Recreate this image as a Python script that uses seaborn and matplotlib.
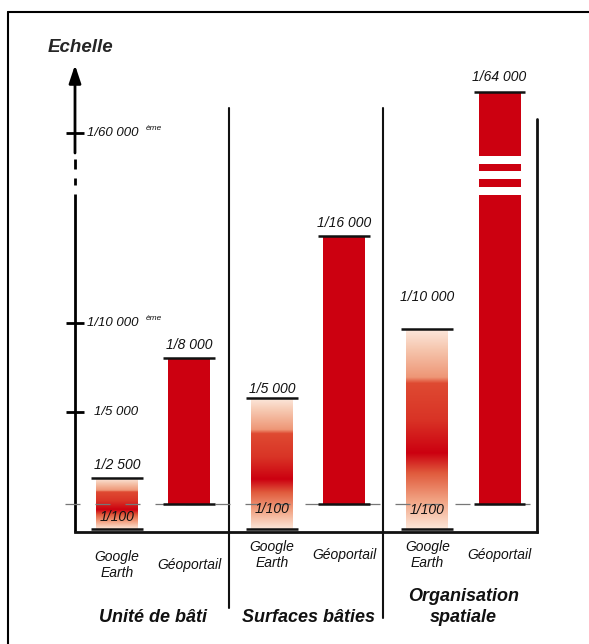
import matplotlib.pyplot as plt
import matplotlib as mpl
import pandas as pd
import numpy as np
import seaborn as sns
from matplotlib.lines import Line2D

sns.set_theme(style="white")
plt.rcParams["font.family"] = ["Liberation Sans", "DejaVu Sans"]

groupes = ["Unité de bâti", "Surfaces bâties", "Organisation\nspatiale"]
sources = ["Google\nEarth", "Géoportail"]
# échelle la plus petite atteinte par chaque source, et hauteur schématique du haut de barre
echelle_ge = ["1/2 500", "1/5 000", "1/10 000"]
echelle_geo = ["1/8 000", "1/16 000", "1/64 000"]
haut_ge = [26, 106, 175]
haut_geo = [146, 268, 412]
bas_ge = -25  # Google Earth descend sous le 1/100
graduations = ["1/5 000", "1/10 000", "1/60 000"]
suffixes = ["", "ème", "ème"]
pos_graduations = [92, 181, 371]
coupures = [(309, 317), (325, 333), (340, 348)]  # blancs dans la barre 1/64 000

ROUGE = "#CC0010"
NOIR = "#111111"

df = pd.DataFrame({
    "groupe": groupes * 2,
    "source": [sources[0]] * 3 + [sources[1]] * 3,
    "haut": haut_ge + haut_geo,
})

fig = plt.figure(figsize=(5.89, 6.44), dpi=100)
ax = fig.add_axes([0, 0, 1, 1])

sns.barplot(data=df, x="groupe", y="haut", hue="source", order=groupes, hue_order=sources,
            palette=[ROUGE, ROUGE], width=0.93, gap=0.42, errorbar=None, saturation=1,
            linewidth=0, legend=False, ax=ax)

# dégradé pour les barres Google Earth
cmap_ge = mpl.colors.LinearSegmentedColormap.from_list("ge", [
    (0.00, "#FCE8DC"), (0.10, "#F6C6AE"), (0.24, "#EE9676"), (0.27, "#DF4A32"),
    (0.45, "#D93426"), (0.62, "#CC0010"), (0.72, "#E05A3C"), (0.86, "#F2A484"),
    (1.00, "#FCE6D8")])
grad = np.linspace(0, 1, 256).reshape(-1, 1)

ge_bars = ax.containers[0]
geo_bars = ax.containers[1]
for p, top in zip(ge_bars, haut_ge):
    p.set_y(bas_ge)
    p.set_height(top - bas_ge)
    p.set_facecolor("none")
    x0, w = p.get_x(), p.get_width()
    im = ax.imshow(grad, cmap=cmap_ge, aspect="auto", extent=(x0, x0 + w, bas_ge, top),
                   origin="upper", zorder=1.5)
    im.set_clip_path(p)

# coupures blanches dans la dernière barre
p = geo_bars[2]
for lo, hi in coupures:
    ax.fill_between([p.get_x(), p.get_x() + p.get_width()], lo, hi, color="white", lw=0, zorder=2)

# ligne du 1/100
ax.plot([-0.567, 2.525], [0, 0], color="#777777", lw=0.9, dashes=(12, 12), zorder=4)

# traits haut / bas et étiquettes des barres
ext = 0.032
dy_ge = [13, 9, 32]
dy_geo = [13, 13, 15]
dy_100 = [-13, -5, -6]
for bars, labels, dys, bottom in [(ge_bars, echelle_ge, dy_ge, bas_ge), (geo_bars, echelle_geo, dy_geo, 0)]:
    for i, (p, lab, dy) in enumerate(zip(bars, labels, dys)):
        x0, w = p.get_x(), p.get_width()
        top = p.get_y() + p.get_height()
        for yy in (top, bottom):
            ax.plot([x0 - ext, x0 + w + ext], [yy, yy], color=NOIR, lw=1.8,
                    solid_capstyle="butt", zorder=5)
        ax.text(x0 + w / 2, top + dy, lab, ha="center", va="center", fontsize=10,
                style="italic", color=NOIR)
        if bottom < 0:
            ax.text(x0 + w / 2, dy_100[i], "1/100", ha="center", va="center", fontsize=10,
                    style="italic", color=NOIR, zorder=6)

# axe des échelles
xa = -0.5024
kw = dict(color="black", lw=2, solid_capstyle="butt")
ax.plot([xa, xa], [-28, 310], **kw)
ax.plot([xa, xa], [319, 326], **kw)
ax.plot([xa, xa], [335, 345], **kw)
ax.annotate("", xy=(xa, 439), xytext=(xa, 351),
            arrowprops=dict(arrowstyle="-|>,head_length=0.9,head_width=0.3", mutation_scale=12,
                            color="black", lw=2, shrinkA=0, shrinkB=0))
ax.text(-0.47, 457, "Echelle", ha="center", va="center", fontsize=13.5,
        weight="bold", style="italic")
for lab, suf, yy in zip(graduations, suffixes, pos_graduations):
    ax.plot([-0.56, -0.444], [yy, yy], **kw)
    xt = -0.38 if suf == "" else -0.425
    ax.text(xt, yy, lab, ha="left", va="center", fontsize=9.5, style="italic", color=NOIR)
    if suf:
        ax.text(-0.045, yy + 4, suf, ha="left", va="center", fontsize=6, style="italic", color=NOIR)

# cadre et séparateurs
ax.plot([xa, 2.4735], [-28, -28], color=NOIR, lw=2, solid_capstyle="projecting")
ax.plot([2.4735, 2.4735], [-28, 385], color=NOIR, lw=2)
ax.plot([0.4895, 0.4895], [-104, 396], color=NOIR, lw=1.5)
ax.plot([1.4815, 1.4815], [-114, 396], color=NOIR, lw=1.5)

# noms des sources et des groupes
y_src = [-61, -51, -51]
for i, g in enumerate(groupes):
    for bars, s in [(ge_bars, sources[0]), (geo_bars, sources[1])]:
        p = bars[i]
        ax.text(p.get_x() + p.get_width() / 2, y_src[i], s, ha="center", va="center",
                fontsize=10, style="italic", color=NOIR, linespacing=1.2)
    ax.text(i, -103 if "\n" in g else -113, g, ha="center", va="center", fontsize=13,
            weight="bold", style="italic", color=NOIR, linespacing=1.3)

fig.add_artist(Line2D([8 / 589, 8 / 589], [0, 1 - 12 / 644], color="black", lw=1.5))
fig.add_artist(Line2D([8 / 589, 1], [1 - 12 / 644, 1 - 12 / 644], color="black", lw=1.5))

ax.set_xlim(-0.9855, 2.8085)
ax.set_ylim(-140, 504)
ax.axis("off")

fig.savefig("out.png", dpi=100)
